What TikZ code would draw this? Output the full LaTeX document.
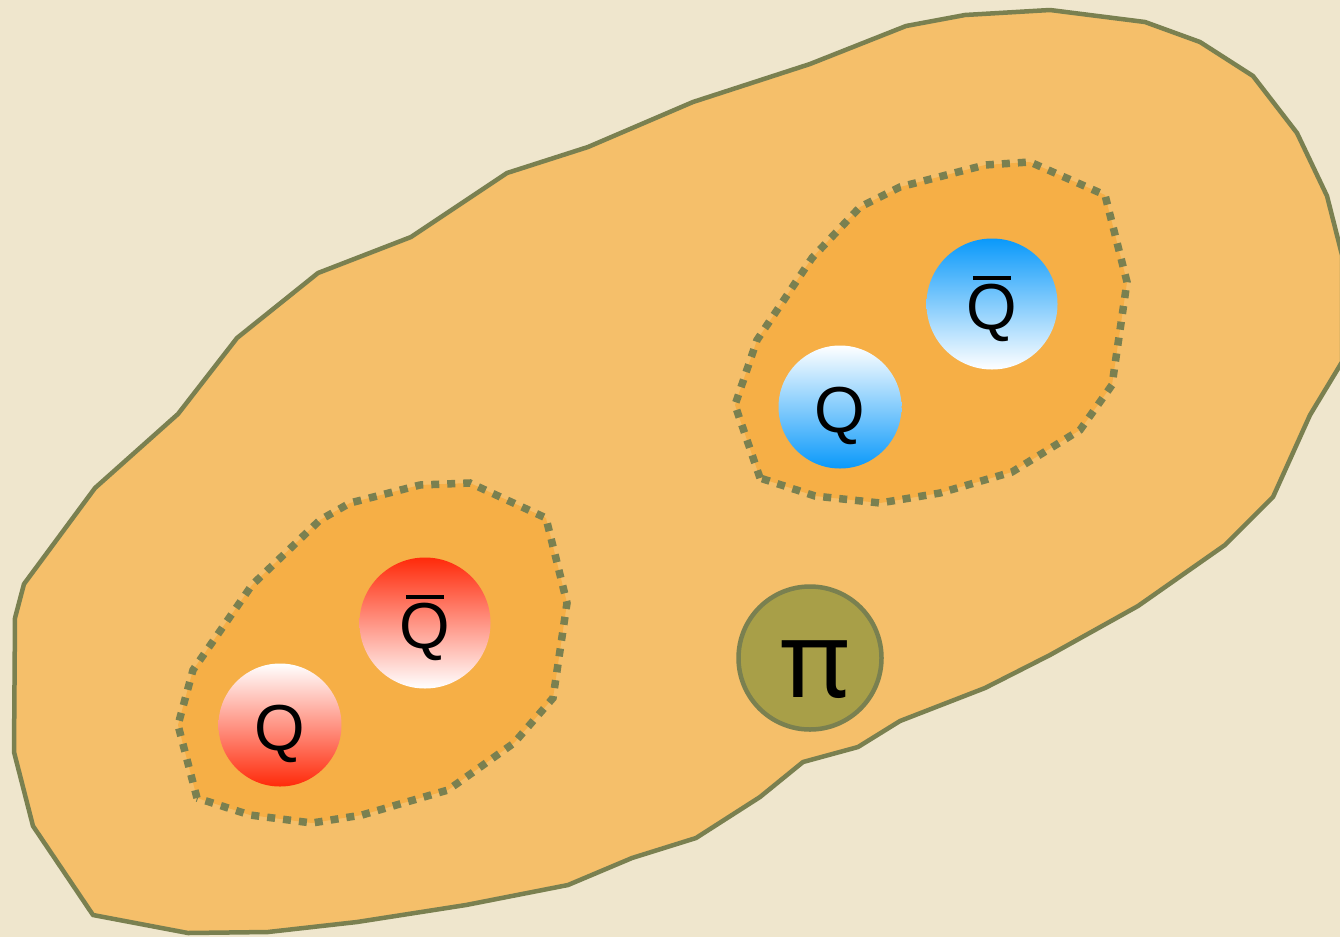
\documentclass[tikz,border=0pt]{standalone}
\usepackage{fontspec}
\setmainfont{Liberation Sans}
\newfontfamily\pifont{Noto Sans}
\definecolor{bgc}{HTML}{EFE6CD}
\definecolor{blobc}{HTML}{F5BF6A}
\definecolor{innerc}{HTML}{F6AF46}
\definecolor{linec}{HTML}{7A8050}
\definecolor{pic}{HTML}{A89F48}
\definecolor{redq}{HTML}{FF2A0A}
\definecolor{blueq}{HTML}{0A99FA}
\newcommand{\myqbar}{{\setbox0\hbox{Q}\rlap{\raisebox{1.1\ht0}{\makebox[\wd0]{\rule{0.76\wd0}{0.055em}}}}Q}}
\tikzset{
  outline/.style={draw=linec, line width=4.5, line join=round},
  dotline/.style={draw=linec, line width=7.5, dash pattern=on 8 off 8},
  quark/.style={circle, inner sep=0pt, minimum size=#1},
  qlabel/.style={inner sep=0pt, font=\fontsize{65}{70}\selectfont},
  redtop/.style={top color=redq, bottom color=white},
  redbot/.style={top color=white, bottom color=redq},
  bluetop/.style={top color=blueq, bottom color=white},
  bluebot/.style={top color=white, bottom color=blueq},
}
\begin{document}
\begin{tikzpicture}[x=1pt,y=-1pt]
\fill[bgc] (0,0) rectangle (1340,937);
\useasboundingbox (0,0) rectangle (1340,937);
% big blob
\path[outline, fill=blobc] (93,915) -- (33,826) -- (14,752) -- (15,618) -- (24,584) -- (95,488) -- (178,414) -- (237,338) -- (318,273) -- (411,237) -- (507,173) -- (588,147) -- (693,102) -- (810,64) -- (906,26) -- (965,15) -- (1050,10) -- (1145,22) -- (1200,42) -- (1253,76) -- (1297,133) -- (1327,196) -- (1342,255) -- (1342,362) -- (1310,415) -- (1273,497) -- (1225,545) -- (1138,606) -- (1050,655) -- (985,688) -- (900,721) -- (858,747) -- (803,762) -- (760,797) -- (696,838) -- (632,858) -- (568,885) -- (466,905) -- (357,922) -- (268,932) -- (188,933) -- cycle;
% inner clusters
\path[fill=innerc] (197,798) -- (178,725) -- (193,670) -- (252,585) -- (320,520) -- (350,503) -- (420,485) -- (470,483) -- (546,518) -- (567,603) -- (553,698) -- (514,743) -- (448,790) -- (362,815) -- (312,823) -- (250,815) -- cycle;
\path[dotline] (197,798) -- (178,725) -- (193,670) -- (252,585) -- (320,520) -- (350,503) -- (420,485) -- (470,483) -- (546,518) -- (567,603) -- (553,698) -- (514,743) -- (448,790) -- (362,815) -- (312,823) -- (250,815) -- cycle;
\path[fill=innerc] (760,478) -- (735,405) -- (757,340) -- (812,258) -- (860,207) -- (900,187) -- (985,165) -- (1030,162) -- (1105,195) -- (1127,282) -- (1112,385) -- (1080,430) -- (1012,472) -- (940,493) -- (880,503) -- (815,496) -- cycle;
\path[dotline] (760,478) -- (735,405) -- (757,340) -- (812,258) -- (860,207) -- (900,187) -- (985,165) -- (1030,162) -- (1105,195) -- (1127,282) -- (1112,385) -- (1080,430) -- (1012,472) -- (940,493) -- (880,503) -- (815,496) -- cycle;
% quarks
\node[quark=131, redtop] (rqb) at (425,623) {};
\node[qlabel] (rqbt) at ([yshift=-5pt]rqb.center) {\myqbar};
\node[quark=123, redbot] (rq) at (280,725) {};
\node[qlabel] (rqt) at ([yshift=-9pt]rq.center) {Q};
\node[quark=131, bluetop] (bqb) at (992,304) {};
\node[qlabel] (bqbt) at ([yshift=-5pt]bqb.center) {\myqbar};
\node[quark=123, bluebot] (bq) at (840,407) {};
\node[qlabel] (bqt) at ([yshift=-9pt]bq.center) {Q};
% pion
\node[circle, draw=linec, line width=4.5, fill=pic, minimum size=143, inner sep=0pt] (pion) at (810,658) {};
\node[inner sep=0pt, font=\pifont\fontsize{106}{106}\selectfont] (pit) at ([xshift=5pt,yshift=-12pt]pion.center) {π};
\end{tikzpicture}
\end{document}
